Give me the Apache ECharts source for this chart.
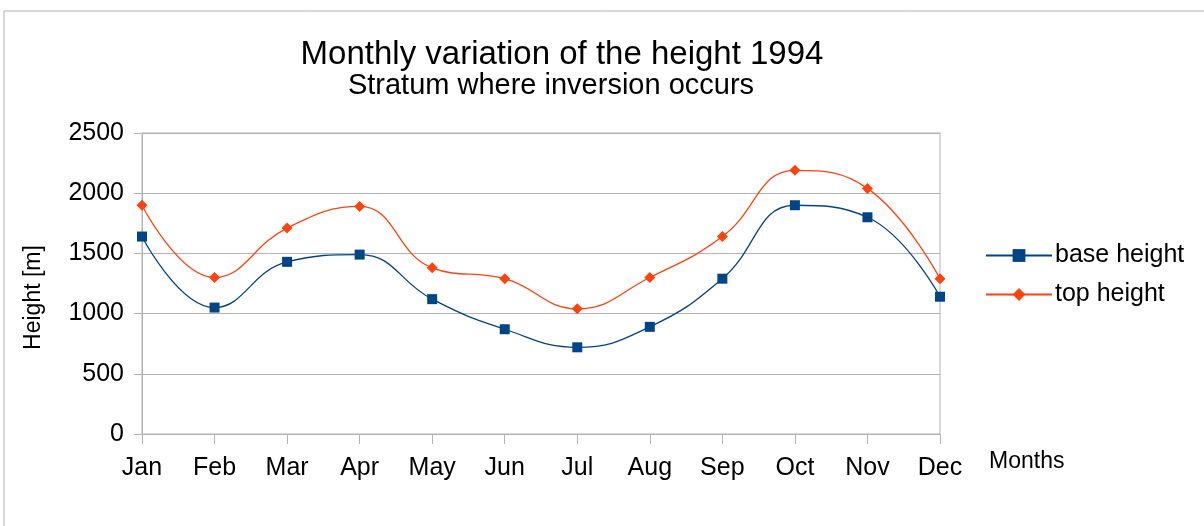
<!DOCTYPE html>
<html><head><meta charset="utf-8">
<script src="https://cdn.jsdelivr.net/npm/echarts@6/dist/echarts.min.js"></script>
<style>html,body{margin:0;padding:0;background:#fff}#c{width:1204px;height:526px}</style>
</head><body><div id="c"></div>
<script>
const months = ['Jan','Feb','Mar','Apr','May','Jun','Jul','Aug','Sep','Oct','Nov','Dec'];
const baseHeight = [1640,1050,1430,1490,1120,870,720,890,1290,1900,1800,1140];
const topHeight = [1900,1300,1710,1890,1380,1290,1040,1300,1640,2190,2040,1290];
const yTicks = [0,500,1000,1500,2000,2500];

const chart = echarts.init(document.getElementById('c'));
const F = 'Liberation Sans, Arial, sans-serif';
chart.setOption({
  animation:false,
  graphic:[{type:'rect',shape:{x:4,y:11,width:1250,height:600},style:{fill:'none',stroke:'#b3b3b3',lineWidth:1}}],
  title:[
    {text:'Monthly variation of the height 1994',left:557,top:33,textAlign:'center',textStyle:{fontFamily:F,fontSize:33,fontWeight:'normal',color:'#000'}},
    {text:'Stratum where inversion occurs',left:546,top:66,textAlign:'center',textStyle:{fontFamily:F,fontSize:29,fontWeight:'normal',color:'#000'}}
  ],
  legend:{orient:'vertical',left:980,top:238,itemWidth:66,itemHeight:16,itemGap:14,
    textStyle:{fontFamily:F,fontSize:25,color:'#000',padding:[0,0,0,-2]},
    data:['base height','top height']},
  grid:{left:142,right:264,top:133,bottom:92,show:true,borderColor:'#b3b3b3',borderWidth:1},
  xAxis:{type:'category',data:months,boundaryGap:false,
    name:'Months',nameLocation:'end',nameGap:49,nameTextStyle:{fontFamily:F,fontSize:23,color:'#000',verticalAlign:'top',padding:[16,0,0,0]},
    axisLine:{lineStyle:{color:'#b3b3b3'}},axisTick:{show:true,length:10,lineStyle:{color:'#b3b3b3'}},
    axisLabel:{fontFamily:F,fontSize:25,color:'#000',margin:22},splitLine:{show:false}},
  yAxis:{type:'value',min:yTicks[0],max:yTicks[yTicks.length-1],interval:500,
    name:'Height [m]',nameLocation:'middle',nameGap:97,nameRotate:90,nameTextStyle:{fontFamily:F,fontSize:23,color:'#000',padding:[0,0,0,-28]},
    axisLine:{show:true,lineStyle:{color:'#b3b3b3'}},axisTick:{show:true,inside:false,length:8,lineStyle:{color:'#b3b3b3'}},
    axisLabel:{fontFamily:F,fontSize:25,color:'#000',margin:18,formatter:v=>String(v)},
    splitLine:{lineStyle:{color:'#b3b3b3'}}},
  series:[
    {name:'base height',type:'line',data:baseHeight,smooth:0.45,symbol:'rect',symbolSize:10,
      lineStyle:{color:'#004586',width:1.3},itemStyle:{color:'#004586'}},
    {name:'top height',type:'line',data:topHeight,smooth:0.45,symbol:'diamond',symbolSize:11,
      lineStyle:{color:'#ff420e',width:1.3},itemStyle:{color:'#ff420e'}}
  ]
});
</script></body></html>
